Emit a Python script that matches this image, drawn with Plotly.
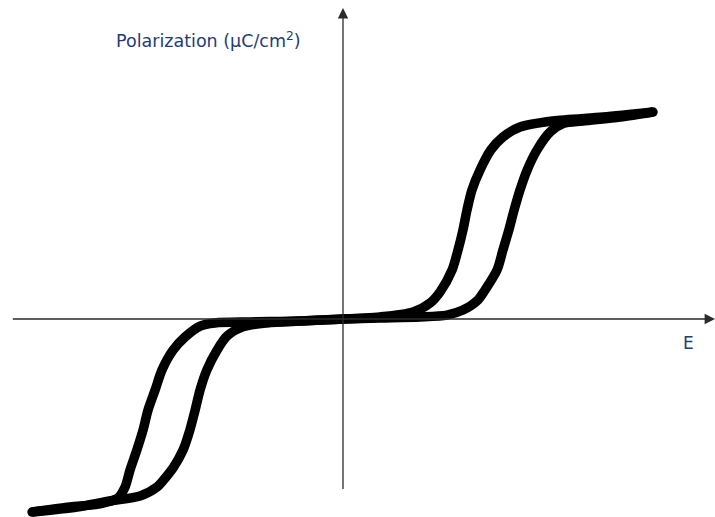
import plotly.graph_objects as go

# Double hysteresis loop (antiferroelectric P–E behaviour), normalised units

# Positive-field loop: field increasing (switches at higher E)
pos_up_E = [0.0, 0.119, 0.248, 0.335, 0.387, 0.435, 0.458, 0.497, 0.516, 0.535,
            0.552, 0.571, 0.594, 0.626, 0.668, 0.710, 0.774, 0.894, 1.000]
pos_up_P = [0.0, 0.005, 0.010, 0.019, 0.043, 0.091, 0.139, 0.236, 0.332, 0.428,
            0.524, 0.620, 0.716, 0.813, 0.899, 0.940, 0.952, 0.971, 0.995]

# Positive-field loop: field decreasing
pos_down_E = [1.000, 0.839, 0.677, 0.571, 0.516, 0.477, 0.442, 0.416, 0.400, 0.387,
              0.371, 0.352, 0.313, 0.281, 0.226, 0.119, 0.0]
pos_down_P = [0.995, 0.971, 0.952, 0.923, 0.875, 0.813, 0.716, 0.620, 0.524, 0.428,
              0.332, 0.236, 0.130, 0.077, 0.034, 0.010, 0.0]

# Negative-field loop: field going negative
neg_down_E = [0.0, -0.139, -0.300, -0.413, -0.461, -0.510, -0.548, -0.584, -0.606,
              -0.629, -0.645, -0.665, -0.687, -0.703, -0.726, -0.784, -0.881, -1.003]
neg_down_P = [0.0, -0.010, -0.014, -0.019, -0.034, -0.087, -0.149, -0.245, -0.341,
              -0.438, -0.534, -0.630, -0.726, -0.808, -0.861, -0.889, -0.904, -0.928]

# Negative-field loop: returning towards zero
neg_up_E = [-1.003, -0.858, -0.752, -0.655, -0.600, -0.571, -0.548, -0.516, -0.494,
            -0.477, -0.461, -0.439, -0.406, -0.374, -0.323, -0.245, -0.139, 0.0]
neg_up_P = [-0.928, -0.904, -0.875, -0.851, -0.808, -0.760, -0.716, -0.630, -0.534,
            -0.438, -0.341, -0.245, -0.149, -0.082, -0.038, -0.019, -0.010, 0.0]

# Drawn axis extents (normalised units)
E_AXIS = (-1.07, 1.20)
P_AXIS = (-0.825, 1.495)

y_label = "Polarization (μC/cm<sup>2</sup>)"
x_label = "E"

LINE_W = 9.5
INK = "black"
AXIS_COLOR = "#2b2b2b"
TEXT_COLOR = "#1f3c78"

fig = go.Figure()

for xs, ys in [(pos_up_E, pos_up_P), (pos_down_E, pos_down_P),
               (neg_down_E, neg_down_P), (neg_up_E, neg_up_P)]:
    fig.add_trace(go.Scatter(
        x=xs, y=ys, mode="lines",
        line=dict(color=INK, width=LINE_W, shape="spline", smoothing=0.8),
        hoverinfo="skip", showlegend=False,
    ))

# Rounded ends at the saturation tips
fig.add_trace(go.Scatter(
    x=[pos_up_E[-1], neg_down_E[-1]], y=[pos_up_P[-1], neg_down_P[-1]],
    mode="markers", marker=dict(color=INK, size=LINE_W, line=dict(width=0)),
    hoverinfo="skip", showlegend=False,
))

# Coordinate axes with arrowheads
fig.add_annotation(x=E_AXIS[1], y=0, ax=E_AXIS[0], ay=0,
                   xref="x", yref="y", axref="x", ayref="y",
                   showarrow=True, arrowhead=2, arrowsize=1.6, arrowwidth=1.3,
                   arrowcolor=AXIS_COLOR, text="")
fig.add_annotation(x=0, y=P_AXIS[1], ax=0, ay=P_AXIS[0],
                   xref="x", yref="y", axref="x", ayref="y",
                   showarrow=True, arrowhead=2, arrowsize=1.6, arrowwidth=1.3,
                   arrowcolor=AXIS_COLOR, text="")

fig.add_annotation(x=-0.435, y=1.341, xref="x", yref="y", text=y_label,
                   showarrow=False, xanchor="center", yanchor="middle",
                   font=dict(family="DejaVu Sans", size=17.5, color=TEXT_COLOR))
fig.add_annotation(x=1.113, y=-0.115, xref="x", yref="y", text=x_label,
                   showarrow=False, xanchor="center", yanchor="middle",
                   font=dict(family="DejaVu Sans", size=17, color=TEXT_COLOR))

fig.update_layout(
    width=715, height=517,
    margin=dict(l=0, r=0, t=0, b=0),
    paper_bgcolor="white", plot_bgcolor="white",
    xaxis=dict(range=[-343 / 310, 372 / 310], visible=False, fixedrange=True),
    yaxis=dict(range=[-198 / 208, 319 / 208], visible=False, fixedrange=True),
)

fig.write_html("out.html")
